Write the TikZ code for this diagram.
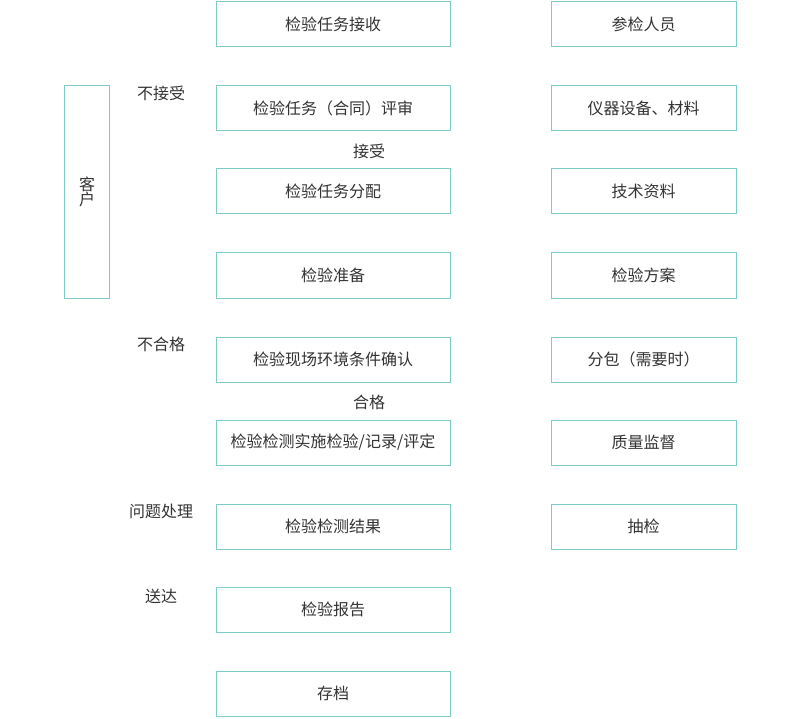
\documentclass[tikz,border=0pt]{standalone}
\usepackage{fontspec}
\setmainfont{Noto Sans CJK SC}
\definecolor{teal1}{HTML}{7ECCC8}
\definecolor{txt}{HTML}{333333}
\tikzset{
  box/.style={draw=teal1, line width=1pt, fill=white, inner sep=0pt, font=\fontsize{16}{18}\selectfont, text=txt},
  lbox/.style={box, minimum width=234pt, minimum height=45pt},
  rbox/.style={box, minimum width=185pt, minimum height=45pt},
  lab/.style={font=\fontsize{16}{18}\selectfont, text=txt, inner sep=0pt},
}
\begin{document}
\begin{tikzpicture}[x=1pt,y=-1pt]
\useasboundingbox (0,0) rectangle (800,719);
% left column
\node[lbox] (l1) at (333,24.5) {检验任务接收};
\node[lbox] (l2) at (333,108.5) {检验任务（合同）评审};
\node[lbox] (l3) at (333,191.5) {检验任务分配};
\node[lbox] (l4) at (333,275.5) {检验准备};
\node[lbox] (l5) at (333,359.5) {检验现场环境条件确认};
\node[lbox] (l6) at (333,442.5) {检验检测实施检验/记录/评定};
\node[lbox] (l7) at (333,526.5) {检验检测结果};
\node[lbox] (l8) at (333,609.5) {检验报告};
\node[lbox] (l9) at (333,693.5) {存档};
% right column
\node[rbox] (r1) at (643.5,24.5) {参检人员};
\node[rbox] (r2) at (643.5,108.5) {仪器设备、材料};
\node[rbox] (r3) at (643.5,191.5) {技术资料};
\node[rbox] (r4) at (643.5,275.5) {检验方案};
\node[rbox] (r5) at (643.5,359.5) {分包（需要时）};
\node[rbox] (r6) at (643.5,442.5) {质量监督};
\node[rbox] (r7) at (643.5,526.5) {抽检};
% customer
\node[box, minimum width=45pt, minimum height=212pt] (cust) at (86.5,192) {};
\node[lab, align=center, font=\fontsize{16}{15.5}\selectfont] (custt) at (87,192) {客\\户};
% labels
\node[lab] (t1) at (161,93) {不接受};
\node[lab] (t2) at (369,151) {接受};
\node[lab] (t3) at (161,344) {不合格};
\node[lab] (t4) at (369,402) {合格};
\node[lab] (t5) at (161,511) {问题处理};
\node[lab] (t6) at (161,596) {送达};
\end{tikzpicture}
\end{document}
